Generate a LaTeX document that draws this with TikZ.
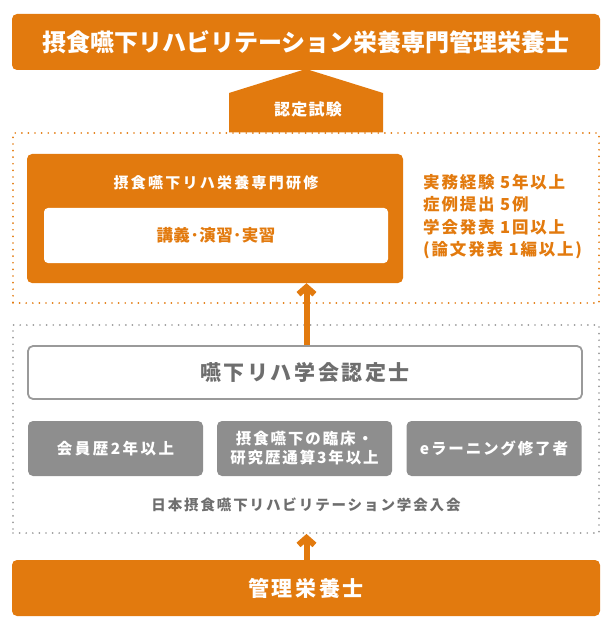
\documentclass[tikz,border=0pt]{standalone}
\usepackage{fontspec}
\setmainfont{Noto Sans CJK JP}
\usetikzlibrary{arrows.meta}
\definecolor{org}{HTML}{E27A0E}
\definecolor{gbox}{HTML}{8E8E8E}
\definecolor{gtext}{HTML}{6E6E6E}
\definecolor{gline}{HTML}{9A9A9A}
\newcommand\fsz[2]{\fontsize{#1}{#2}\selectfont}
\newcommand\lsp[1]{\addfontfeature{LetterSpace=#1}}
\tikzset{
  obox/.style={fill=org, rounded corners=5pt, inner sep=0pt, text=white},
  wbox/.style={fill=white, rounded corners=4pt, inner sep=0pt},
  certbox/.style={draw=gline, line width=1.8pt, fill=white, rounded corners=5pt, inner sep=0pt},
  gbx/.style={fill=gbox, rounded corners=5pt, inner sep=0pt, text=white, minimum width=175pt, minimum height=55pt, align=center},
  dotbox/.style={draw=#1, line width=1.9pt, dash pattern=on 0pt off 6.6pt, line cap=round, inner sep=0pt},
  uparrow/.style={draw=org, line width=6pt, -{Straight Barb[length=7pt,width=16pt]}},
}
\begin{document}
\begin{tikzpicture}[x=1pt,y=-1pt]
\useasboundingbox (0,0) rectangle (612,628);
% frames
\node[dotbox=org, minimum width=586pt, minimum height=170pt] (ofr) at (306,218) {};
\node[dotbox=gline, minimum width=586pt, minimum height=208pt] (gfr) at (306,429) {};
% title
\node[obox, minimum width=588pt, minimum height=56pt, font={\fsz{24}{28}\lsp{0}\bfseries}] (title) at (306,42)
  {摂食嚥下リハビリテーション栄養専門管理栄養士};
% pentagon
\fill[org] (229,132.5) -- (229,93) -- (306,69) -- (383,93) -- (383,132.5) -- cycle;
\node[text=white, inner sep=0pt, font={\fsz{16}{18}\lsp{8}\bfseries}] (exam) at (308,109) {認定試験};
% training box
\node[obox, minimum width=376pt, minimum height=129pt] (train) at (215,218.5) {};
\node[text=white, inner sep=0pt, font={\fsz{15}{18}\lsp{15}\bfseries}] (traint) at (216,183) {摂食嚥下リハ栄養専門研修};
\node[wbox, minimum width=344pt, minimum height=55pt, text=org, font={\fsz{16.5}{18}\lsp{3}\bfseries}] (lect) at (216,235.5)
  {講義･演習･実習};
% requirements
\node[anchor=north west, inner sep=0pt, text=org, align=left, font={\fsz{16.5}{22.5}\lsp{11}\bfseries}] (req) at (423,174)
  {実務経験 5年以上\\症例提出 5例\\学会発表 1回以上\\(論文発表 1編以上)};
% certified
\node[certbox, minimum width=554pt, minimum height=53pt, text=gtext, font={\fsz{21}{24}\lsp{12}\bfseries}] (cert) at (305,372.5)
  {嚥下リハ学会認定士};
\node[gbx, font={\fsz{15.5}{19}\lsp{16}\bfseries}] (g1) at (115.5,448.5) {会員歴2年以上};
\node[gbx, font={\fsz{15.5}{19}\lsp{12}\bfseries}] (g2) at (304.5,448.5) {摂食嚥下の臨床・\\研究歴通算3年以上};
\node[gbx, font={\fsz{15.5}{19}\lsp{12}\bfseries}] (g3) at (494,448.5) {eラーニング修了者};
\node[text=gtext, inner sep=0pt, font={\fsz{14.5}{18}\lsp{13}\bfseries}] (join) at (306,505)
  {日本摂食嚥下リハビリテーション学会入会};
% bottom
\node[obox, minimum width=588pt, minimum height=56pt, font={\fsz{21}{24}\lsp{12}\bfseries}] (rd) at (306,588)
  {管理栄養士};
% arrows
\coordinate (ax) at (306.5,0);
\draw[uparrow] (cert.north -| ax) -- (train.south -| ax);
\draw[uparrow] (rd.north -| ax) -- (gfr.south -| ax);
\end{tikzpicture}
\end{document}
